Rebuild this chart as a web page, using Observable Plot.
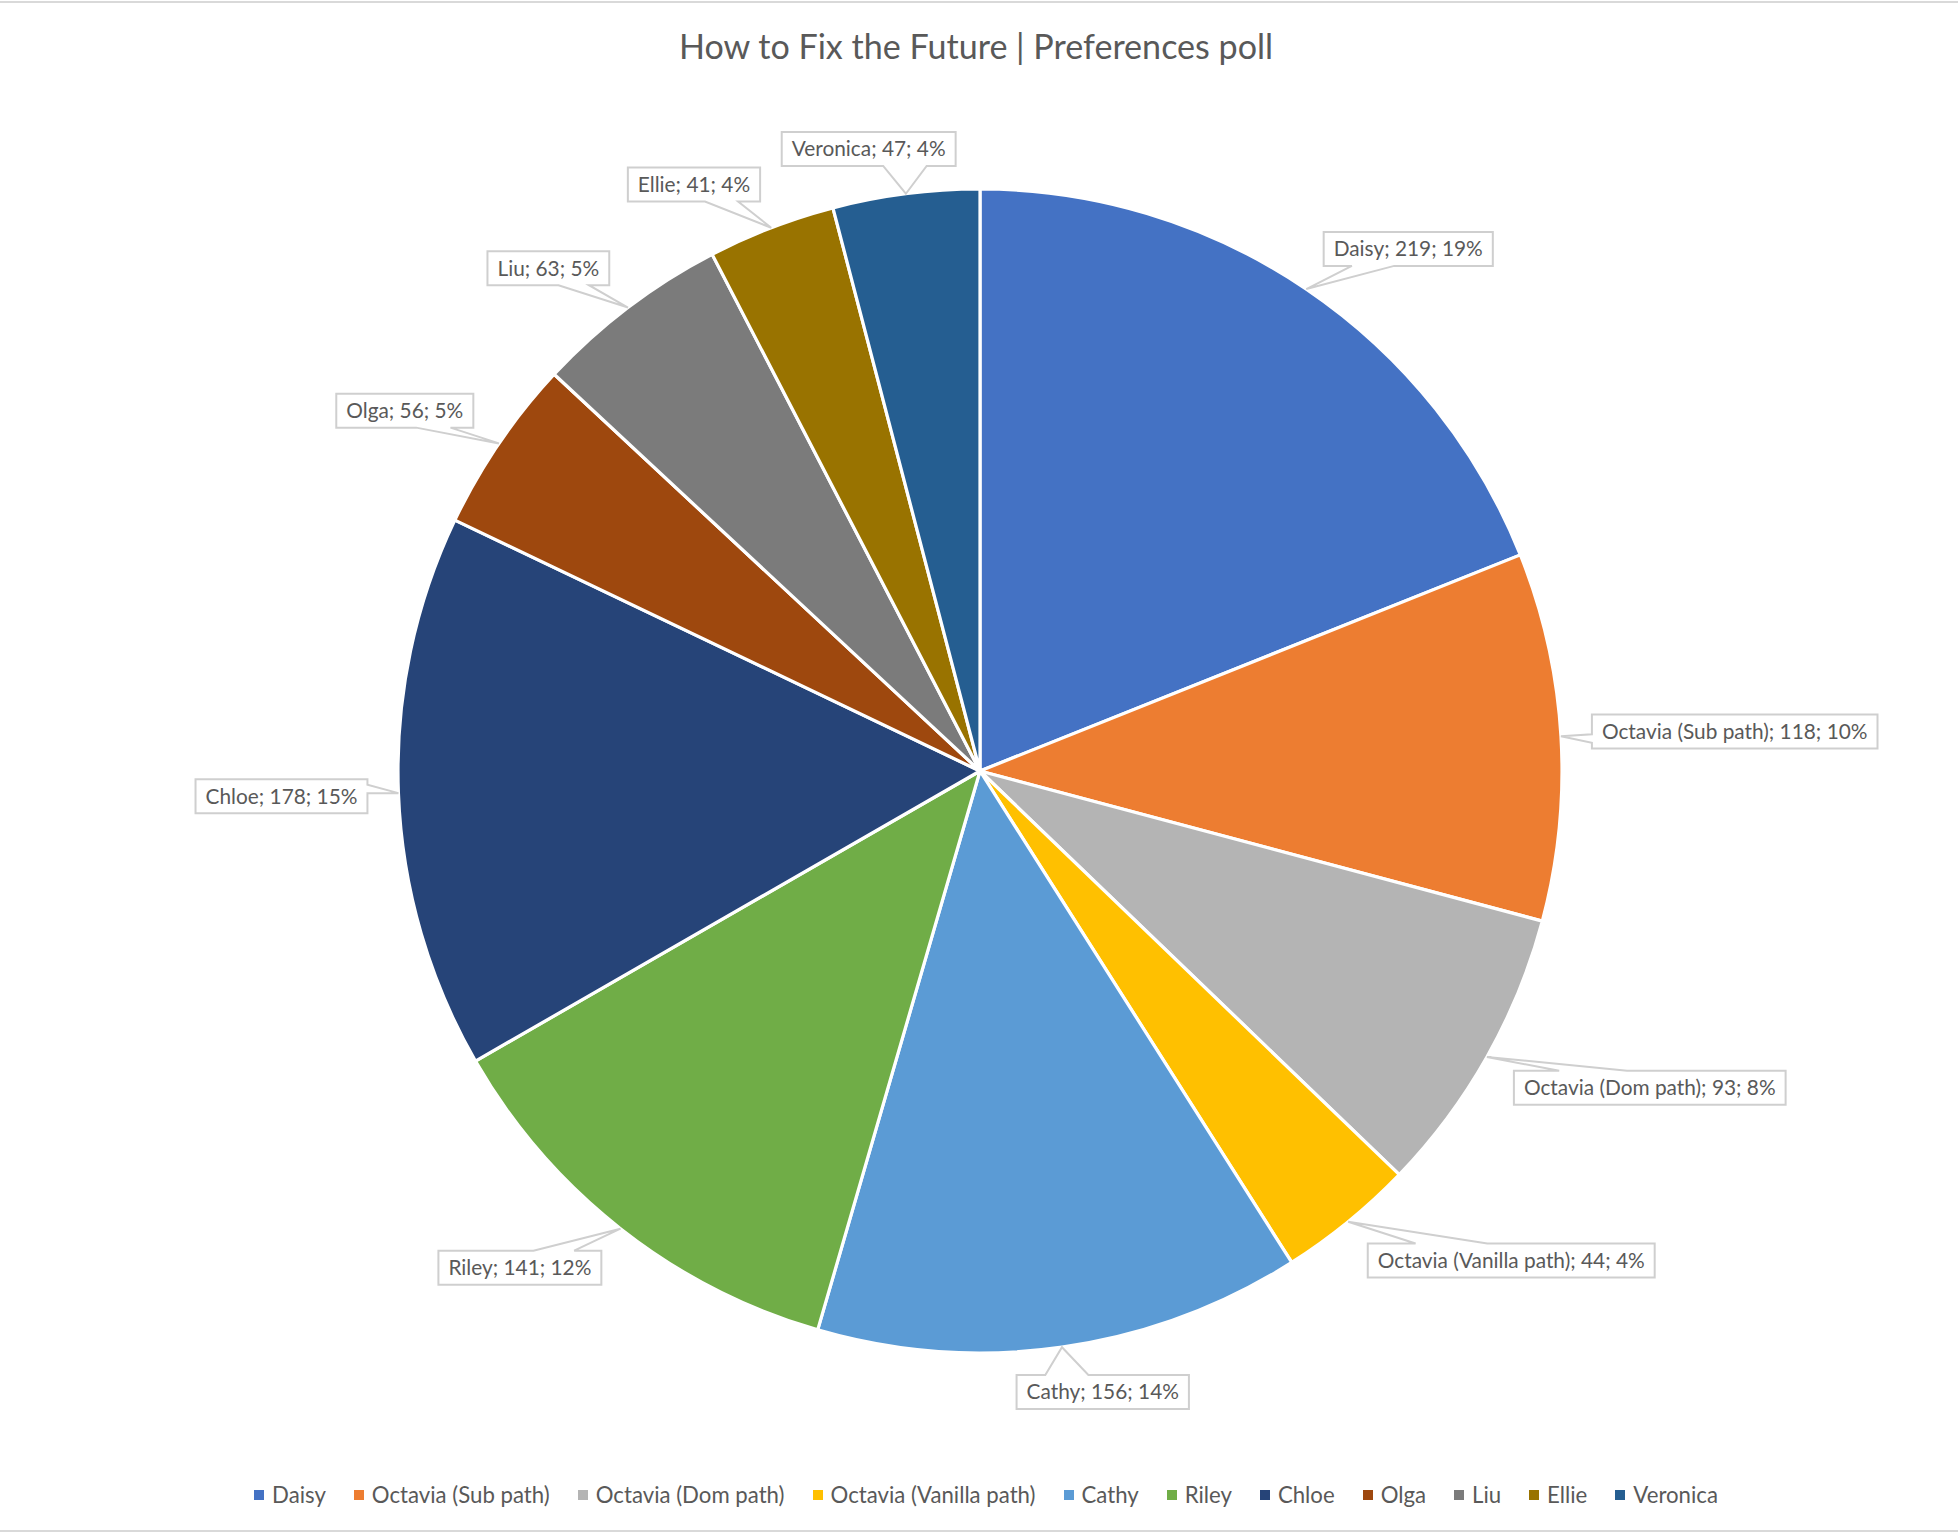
<!DOCTYPE html>
<html>
<head>
<meta charset="utf-8">
<script src="https://cdn.jsdelivr.net/npm/d3@7"></script>
<script src="https://cdn.jsdelivr.net/npm/@observablehq/plot@0.6"></script>
<style>
  html, body { margin: 0; padding: 0; background: #ffffff; }
  #chart { position: relative; width: 1958px; height: 1534px; overflow: hidden; font-family: Lato, "Open Sans", sans-serif; color: #595959; }
  #chart .frame-top { position: absolute; left: 0; top: 1px; width: 1958px; height: 0; border-top: 2px solid #D9D9D9; }
  #chart .frame-bottom { position: absolute; left: 0; top: 1530px; width: 1958px; height: 0; border-top: 2px solid #D9D9D9; }
  #title { position: absolute; left: 0; width: 1958px; text-align: center; white-space: pre; color: #595959; }
  #legend { position: absolute; left: 0; width: 1958px; display: flex; justify-content: center; align-items: center; color: #595959; }
  #legend .item { display: flex; align-items: center; margin: 0 14px; white-space: pre; }
  #legend .sw { width: 10px; height: 10px; margin-right: 8px; flex: none; }
  svg.plot { position: absolute; left: 0; top: 0; }
</style>
</head>
<body>
<div id="chart"></div>
<script>
// ---- data ----
const categories = ["Daisy", "Octavia (Sub path)", "Octavia (Dom path)", "Octavia (Vanilla path)", "Cathy", "Riley", "Chloe", "Olga", "Liu", "Ellie", "Veronica"];
const votes = [219, 118, 93, 44, 156, 141, 178, 56, 63, 41, 47];
const percentLabels = [19, 10, 8, 4, 14, 12, 15, 5, 5, 4, 4];
const colors = ["#4472C4", "#ED7D31", "#B4B4B4", "#FFC000", "#5B9BD5", "#70AD47", "#264478", "#9E480E", "#7B7B7B", "#997300", "#255E91"];
const titleText = "How to Fix the Future | Preferences poll";

// ---- layout ----
const W = 1958, H = 1534;
const CX = 980, CY = 771, R = 582;
const FONT = "Lato";
const textColor = "#595959";
const calloutStroke = "#CFCFCF";

const rows = categories.map((name, i) => ({name, votes: votes[i], pct: percentLabels[i], color: colors[i]}));

const ctx = document.createElement("canvas").getContext("2d");
function measure(text, size) { ctx.font = `${size}px ${FONT}`; return ctx.measureText(text).width; }
function fitSize(text, target) { return 100 * target / measure(text, 100); }

const labelSize = fitSize("Chloe; 178; 15%", 152);
const titleSize = fitSize(titleText, 595);
const legendSize = fitSize("Octavia (Sub path)", 178);

const arcs = d3.pie().sort(null).value(d => d.votes)(rows);

function getScales(args) {
  const s = args.find(a => a && typeof a === "object" && typeof a.x === "function" && typeof a.y === "function");
  if (s) return s;
  return {
    x: Plot.scale({x: {domain: [-1, 1], range: [CX - R, CX + R]}}).apply,
    y: Plot.scale({y: {domain: [-1, 1], range: [CY + R, CY - R]}}).apply
  };
}

function pieMark(...args) {
  const {x, y} = getScales(args);
  const cx = x(0), cy = y(0), r = x(1) - x(0);
  const arc = d3.arc().innerRadius(0).outerRadius(r);
  const g = d3.create("svg:g").attr("transform", `translate(${cx},${cy})`);
  g.selectAll("path").data(arcs).join("path")
    .attr("d", arc)
    .attr("fill", d => d.data.color)
    .attr("stroke", "#ffffff")
    .attr("stroke-width", 3.2)
    .attr("stroke-linejoin", "round");
  return g.node();
}

const clamp = v => Math.max(-1, Math.min(1, v));

function calloutMark(...args) {
  const {x, y} = getScales(args);
  const r = x(1) - x(0);
  const g = d3.create("svg:g");
  const gapX = 31 / r, gapY = 28 / r;
  for (const a of arcs) {
    const th = (a.startAngle + a.endAngle) / 2;
    const s = Math.sin(th), c = Math.cos(th);
    const tip = [x(s), y(c)];
    const P = [x(s * (1 + gapX)), y(c * (1 + gapY))];
    const label = `${a.data.name}; ${a.data.votes}; ${a.data.pct}%`;
    const w = measure(label, labelSize) + 20, h = 34;
    const bx = P[0] + (w / 2) * clamp(3 * s);
    const by = P[1] - (h / 2) * clamp(3 * c);
    const L = bx - w / 2, Rr = bx + w / 2, T = by - h / 2, B = by + h / 2;
    const dx = tip[0] - bx, dy = tip[1] - by;
    let d;
    if (Math.abs(dy) * w > Math.abs(dx) * h) {
      const x1 = L + w * (dx > 0 ? 7 : 2) / 12, x2 = L + w * (dx > 0 ? 10 : 5) / 12;
      if (dy < 0) d = `M${L},${T}L${x1},${T}L${tip[0]},${tip[1]}L${x2},${T}L${Rr},${T}L${Rr},${B}L${L},${B}Z`;
      else d = `M${L},${T}L${Rr},${T}L${Rr},${B}L${x2},${B}L${tip[0]},${tip[1]}L${x1},${B}L${L},${B}Z`;
    } else {
      const y1 = T + h * (dy > 0 ? 7 : 2) / 12, y2 = T + h * (dy > 0 ? 10 : 5) / 12;
      if (dx < 0) d = `M${L},${T}L${Rr},${T}L${Rr},${B}L${L},${B}L${L},${y2}L${tip[0]},${tip[1]}L${L},${y1}Z`;
      else d = `M${L},${T}L${Rr},${T}L${Rr},${y1}L${tip[0]},${tip[1]}L${Rr},${y2}L${Rr},${B}L${L},${B}Z`;
    }
    g.append("path").attr("d", d).attr("fill", "#ffffff").attr("stroke", calloutStroke).attr("stroke-width", 2).attr("stroke-linejoin", "miter");
    g.append("text").attr("x", bx).attr("y", by).attr("dy", "0.36em")
      .attr("text-anchor", "middle").attr("fill", textColor)
      .attr("font-family", FONT).attr("font-size", labelSize).text(label);
  }
  return g.node();
}

const svg = Plot.plot({
  width: W,
  height: H,
  margin: 0,
  style: {fontFamily: FONT, background: "transparent", overflow: "visible"},
  x: {domain: [-1, 1], range: [CX - R, CX + R], axis: null},
  y: {domain: [-1, 1], range: [CY + R, CY - R], axis: null},
  marks: [pieMark, calloutMark]
});

const chart = document.getElementById("chart");
chart.insertAdjacentHTML("beforeend", `<div class="frame-top"></div><div class="frame-bottom"></div>`);
chart.appendChild(svg);

const title = document.createElement("div");
title.id = "title";
title.textContent = titleText;
title.style.fontSize = titleSize + "px";
title.style.lineHeight = titleSize + "px";
title.style.top = (59 - 0.887 * titleSize) + "px";
title.style.left = "-3px";
chart.appendChild(title);

const legend = document.createElement("div");
legend.id = "legend";
legend.style.fontSize = legendSize + "px";
legend.style.lineHeight = legendSize + "px";
legend.style.top = (1504 - 0.887 * legendSize) + "px";
legend.style.paddingLeft = "14px";
legend.style.boxSizing = "border-box";
for (const d of rows) {
  const item = document.createElement("div");
  item.className = "item";
  const sw = document.createElement("span");
  sw.className = "sw";
  sw.style.background = d.color;
  const t = document.createElement("span");
  t.textContent = d.name;
  item.appendChild(sw);
  item.appendChild(t);
  legend.appendChild(item);
}
chart.appendChild(legend);
</script>
</body>
</html>
